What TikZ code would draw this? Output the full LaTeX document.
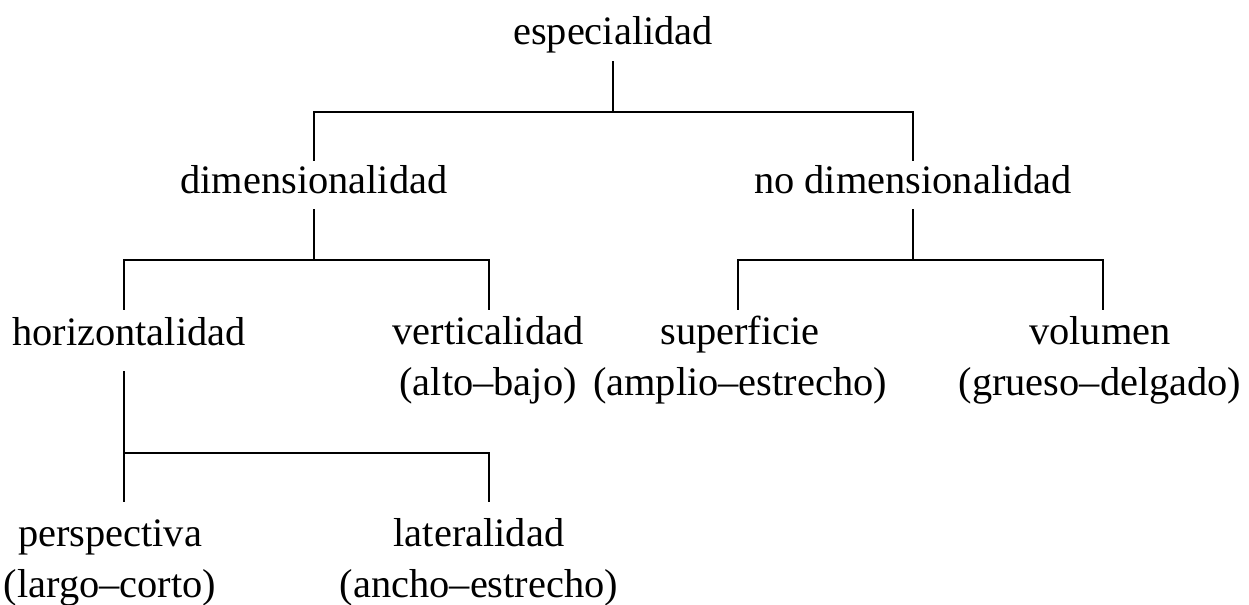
\documentclass[tikz,border=0pt]{standalone}
\usepackage{fontspec}
\setmainfont{Liberation Serif}
\begin{document}
\begin{tikzpicture}[x=0.5pt,y=-0.5pt,
  lbl/.style={anchor=base, align=center, inner sep=0pt, font=\fontsize{20.2}{25.5}\selectfont},
  link/.style={line width=1pt, line cap=rect}]
\useasboundingbox (0,0) rectangle (1249,605);
\node[lbl] (esp) at (613,44.5) {especialidad};
\node[lbl] (dim) at (314,193) {dimensionalidad};
\node[lbl] (nodim) at (913,193) {no dimensionalidad};
\node[lbl] (hor) at (129,345) {horizontalidad};
\node[lbl] (vert) at (488,395) {verticalidad\\(alto–bajo)};
\node[lbl] (sup) at (740,395) {superficie\\(amplio–estrecho)};
\node[lbl] (vol) at (1100,395) {volumen\\(grueso–delgado)};
\node[lbl] (persp) at (110,597) {perspectiva\\(largo–corto)};
\node[lbl] (lat) at (479,597) {lateralidad\\(ancho–estrecho)};
% especialidad
\draw[link] (esp.base |- 0,62) -- (esp.base |- 0,112);
\draw[link] (dim.base |- 0,160) -- (dim.base |- 0,112) -- (nodim.base |- 0,112) -- (nodim.base |- 0,160);
% dimensionalidad
\draw[link] (dim.base |- 0,210) -- (dim.base |- 0,260);
\draw[link] ([xshift=-2.5pt]hor.base |- 0,309) -- ([xshift=-2.5pt]hor.base |- 0,260) -- ([xshift=0.5pt]vert.base |- 0,260) -- ([xshift=0.5pt]vert.base |- 0,309);
% no dimensionalidad
\draw[link] (nodim.base |- 0,210) -- (nodim.base |- 0,260);
\draw[link] ([xshift=-1pt]sup.base |- 0,309) -- ([xshift=-1pt]sup.base |- 0,260) -- ([xshift=1.5pt]vol.base |- 0,260) -- ([xshift=1.5pt]vol.base |- 0,309);
% horizontalidad
\draw[link] ([xshift=-2.5pt]hor.base |- 0,372) -- ([xshift=-2.5pt]hor.base |- 0,453);
\draw[link] ([xshift=7pt]persp.base |- 0,501) -- ([xshift=7pt]persp.base |- 0,453) -- ([xshift=5pt]lat.base |- 0,453) -- ([xshift=5pt]lat.base |- 0,501);
\end{tikzpicture}
\end{document}
